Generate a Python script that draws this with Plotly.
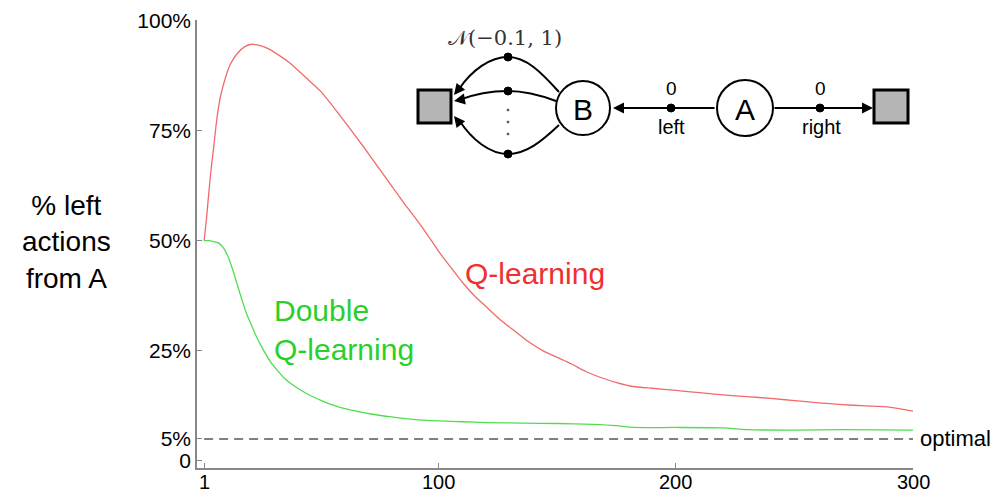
import plotly.graph_objects as go

# ---------------- data ----------------
q_episodes = [1, 2, 3, 4, 5, 6, 7, 8, 10, 12, 15, 18, 21, 25, 28, 32, 37, 44, 50, 54, 61, 68, 74, 80,
              86, 91, 95, 100, 105, 110, 115, 120, 126, 132, 138, 144, 150, 156, 162, 168, 175, 182,
              190, 200, 210, 220, 230, 240, 250, 260, 270, 280, 290, 300]
q_left_pct = [50, 55, 61, 66.5, 71, 76, 80, 83, 87, 90, 92.5, 94, 94.6, 94.2, 93.6, 92.3, 90.4, 87,
              84, 81.4, 76.5, 71.5, 67, 62.5, 58, 54.5, 51.5, 47.5, 44, 40.5, 37.5, 35, 32, 29.5, 27,
              25, 23.5, 22, 20.3, 19, 17.8, 16.9, 16.5, 16, 15.5, 15, 14.6, 14.2, 13.7, 13.2, 12.8,
              12.5, 12.2, 11.3]

dq_episodes = [1, 3, 5, 7, 9, 11, 13, 15, 17, 19, 21, 23, 26, 29, 32, 35, 38, 42, 46, 51, 57, 65,
               72, 80, 90, 100, 110, 120, 135, 150, 165, 175, 182, 200, 220, 230, 250, 270, 300]
dq_left_pct = [50, 50, 49.8, 49.5, 48.5, 46.5, 43.5, 40, 36.5, 33.3, 30.8, 28.3, 25.2, 22.5, 20.5,
               18.7, 17.4, 16, 14.8, 13.6, 12.4, 11.3, 10.6, 10, 9.4, 9.1, 8.9, 8.7, 8.6, 8.5, 8.3,
               8.0, 7.6, 7.6, 7.5, 7.1, 7.0, 7.1, 7.0]

optimal_x = [1, 300]
optimal_pct = [5, 5]

x_tickvals = [1, 100, 200, 300]
x_ticktext = ["1", "100", "200", "300"]
y_tickvals = [0, 5, 25, 50, 75, 100]
y_ticktext = ["0", "5%", "25%", "50%", "75%", "100%"]

# ---------------- layout geometry ----------------
W, H = 995, 494
L, R, T, B = 197, 82, 20, 26
PW, PH = W - L - R, H - T - B
FONT = "Liberation Sans, Arial, Helvetica, sans-serif"


def px(x):
    return (x - L) / PW


def py(y):
    return (H - B - y) / PH


fig = go.Figure()
fig.add_trace(go.Scatter(x=q_episodes, y=q_left_pct, mode="lines", name="Q-learning",
                         line=dict(color="#f06a6a", width=1.3, shape="spline", smoothing=0.6)))
fig.add_trace(go.Scatter(x=dq_episodes, y=dq_left_pct, mode="lines", name="Double Q-learning",
                         line=dict(color="#4fdd4f", width=1.3, shape="spline", smoothing=0.6)))
fig.add_trace(go.Scatter(x=optimal_x, y=optimal_pct, mode="lines", name="optimal",
                         line=dict(color="#555555", width=1.5, dash="9px,6px")))

shapes = []
annotations = []

# ---- MDP diagram (decoration) ----
def rect(x0, y0, x1, y1):
    shapes.append(dict(type="rect", xref="paper", yref="paper", x0=px(x0), x1=px(x1),
                       y0=py(y1), y1=py(y0), fillcolor="#b5b5b5",
                       line=dict(color="black", width=3), layer="above"))


def circle(cx, cy, r, fill="white", lw=2, lc="black"):
    shapes.append(dict(type="circle", xref="paper", yref="paper", x0=px(cx - r), x1=px(cx + r),
                       y0=py(cy + r), y1=py(cy - r), fillcolor=fill,
                       line=dict(color=lc, width=lw), layer="above"))


def curve(start, seg1, seg2):
    def P(p):
        return f"{px(p[0]):.5f},{py(p[1]):.5f}"
    d = (f"M{P(start)} C{P(seg1[0])} {P(seg1[1])} {P(seg1[2])} "
         f"C{P(seg2[0])} {P(seg2[1])} {P(seg2[2])}")
    shapes.append(dict(type="path", xref="paper", yref="paper", path=d,
                       line=dict(color="black", width=2), layer="above"))


def arrow(tip, tail):
    annotations.append(dict(x=px(tip[0]), y=py(tip[1]), xref="paper", yref="paper",
                            ax=tail[0] - tip[0], ay=tail[1] - tip[1], axref="pixel", ayref="pixel",
                            text="", showarrow=True, arrowhead=2, arrowsize=1.1, arrowwidth=2,
                            arrowcolor="black", standoff=0, startstandoff=0))


def label(x, y, text, size, color="black", family=FONT, xanchor="center"):
    annotations.append(dict(x=px(x), y=py(y), xref="paper", yref="paper", text=text,
                            showarrow=False, xanchor=xanchor, yanchor="middle",
                            font=dict(size=size, color=color, family=family)))


rect(418, 90, 451, 123)
rect(874, 90, 908, 123)

# curves from B to terminal square
curve((559, 92), [(541, 72), (526, 57), (508, 57)], [(490, 57), (472, 70), (459, 89)])
curve((556, 101), [(540, 95), (525, 91), (508, 91)], [(490, 91), (472, 95), (459, 100)])
curve((559, 125), [(541, 142), (526, 154), (508, 154)], [(490, 154), (472, 140), (459, 120)])
arrow((454, 95), (462, 85))
arrow((454, 101), (465, 99))
arrow((454, 116), (462, 126))

# straight arrows from A
arrow((613, 108), (716, 108))
arrow((873, 108), (773, 108))

circle(583, 108, 27)
circle(745, 108, 28)

for (dx, dy) in [(508, 57), (508, 91), (508, 154), (671, 108), (820, 108)]:
    circle(dx, dy, 4, fill="black", lw=1)
for dy in [110, 122, 134]:
    circle(508, dy, 1.1, fill="#6a3a3a", lw=0.5, lc="#6a3a3a")

label(583, 109, "B", 30)
label(745, 109, "A", 30)
label(671, 89, "0", 19)
label(820, 89, "0", 19)
label(671, 127, "left", 20)
label(821, 127, "right", 20)
label(505, 38, "𝒩(−0.1, 1)", 21, color="#333333", family="DejaVu Serif, serif")

# ---- chart text ----
annotations.append(dict(x=px(66), y=py(242), xref="paper", yref="paper",
                        text="% left<br>actions<br>from A",
                        showarrow=False, align="center", xanchor="center", yanchor="middle",
                        font=dict(size=28, color="black", family=FONT)))
annotations.append(dict(x=110, y=42.5, xref="x", yref="y", text="Q-learning", showarrow=False,
                        xanchor="left", yanchor="middle",
                        font=dict(size=30, color="#ee3030", family=FONT)))
annotations.append(dict(x=29.7, y=29.8, xref="x", yref="y", text="Double<br>Q-learning",
                        showarrow=False, align="left", xanchor="left", yanchor="middle",
                        font=dict(size=30, color="#2ad02a", family=FONT)))
annotations.append(dict(x=300, y=5, xref="x", yref="y", text="optimal", showarrow=False,
                        xanchor="left", yanchor="middle", xshift=5,
                        font=dict(size=22, color="black", family=FONT)))

# x tick labels placed just below the axis so they fit in the short bottom margin
for v, t in zip(x_tickvals, x_ticktext):
    annotations.append(dict(x=v, y=py(494), xref="x", yref="paper", text=t, showarrow=False,
                            xanchor="center", yanchor="bottom", borderpad=0,
                            font=dict(size=20, color="black", family=FONT)))

fig.update_layout(
    width=W, height=H,
    margin=dict(l=L, r=R, t=T, b=B, autoexpand=False),
    paper_bgcolor="white", plot_bgcolor="white",
    showlegend=False,
    shapes=shapes, annotations=annotations,
    font=dict(family=FONT, size=21, color="black"),
    xaxis=dict(range=[-2, 300], tickvals=x_tickvals, showticklabels=False, showgrid=False,
               zeroline=False, showline=True, linecolor="#888888", linewidth=1.5,
               ticks="inside", ticklen=5, tickcolor="#888888", automargin=False),
    yaxis=dict(range=[-1.6, 100.1], tickvals=y_tickvals, ticktext=y_ticktext, showgrid=False,
               zeroline=False, showline=True, linecolor="#888888", linewidth=1.5,
               ticks="inside", ticklen=5, tickcolor="#888888", tickfont=dict(size=21),
               automargin=False),
)

fig.write_html("out.html", config={"displayModeBar": False},
               post_script="document.body.style.margin='0';document.body.style.padding='0';")
